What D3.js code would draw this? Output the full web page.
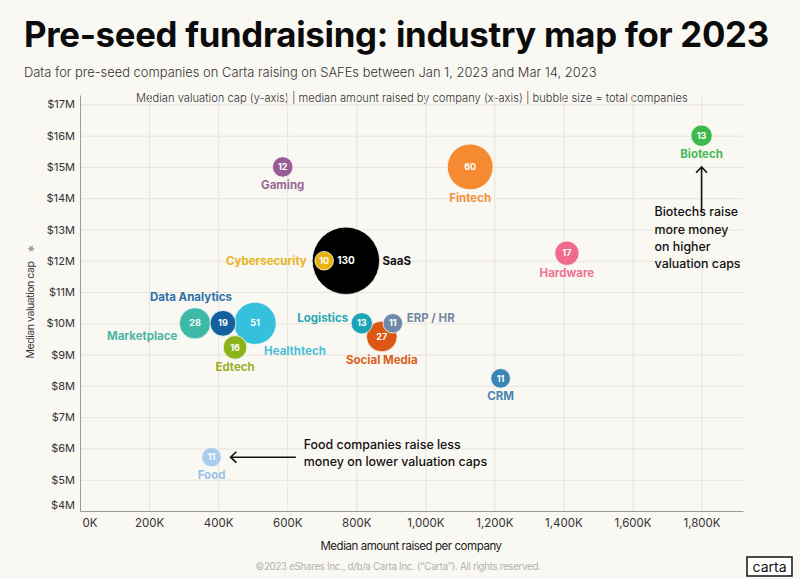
<!DOCTYPE html>
<html>
<head>
<meta charset="utf-8">
<script src="https://cdn.jsdelivr.net/npm/d3@7"></script>
<style>
  body { margin: 0; background: #faf8f3; }
  svg { display: block; font-family: Inter, "Noto Sans", sans-serif; }
</style>
</head>
<body>
<svg id="chart" width="800" height="579"></svg>
<script>
// industries
var industries = ['SaaS', 'Fintech', 'Healthtech', 'Marketplace', 'Social Media', 'Data Analytics',
    'Hardware', 'Edtech', 'Biotech', 'Logistics', 'Gaming', 'ERP / HR', 'CRM', 'Food', 'Cybersecurity'];
// median amount raised per company, in K
var amounts = [770, 1130, 507, 333, 874, 414, 1410, 449, 1800, 816, 587, 906, 1218, 381, 707];
// median valuation cap, in $M
var caps = [12, 15, 10, 10, 9.58, 10, 12.24, 9.23, 16, 10, 15, 10, 8.24, 5.72, 12];
// total companies
var counts = [130, 60, 51, 28, 27, 19, 17, 16, 13, 13, 12, 11, 11, 11, 10];

var bubbleColors = ['#000000', '#f58a32', '#35c1dd', '#3db9a8', '#dc5713', '#13609e', '#ef6a8c',
    '#8db31a', '#3dba4b', '#1aa6b6', '#9a5c96', '#6f8aa8', '#3a84b6', '#a8cdee', '#e9b30e'];
var labelColors = ['#111111', '#f3913e', '#4cbfd9', '#4bb6a5', '#d9621c', '#2d6fa6', '#ef7391',
    '#98b02b', '#48b955', '#24a8b6', '#9a6796', '#7189a4', '#4a86b4', '#98c1e6', '#e8b520'];

var xTicks = [0, 200, 400, 600, 800, 1000, 1200, 1400, 1600, 1800];
var yTicks = [4, 5, 6, 7, 8, 9, 10, 11, 12, 13, 14, 15, 16, 17];

// where each label sits relative to its bubble
var labelPlace = {
    'SaaS': { side: 'right', gap: 3, dy: 0 },
    'Cybersecurity': { side: 'left', gap: 8, dy: 0 },
    'Marketplace': { side: 'left', gap: 2, dy: 13 },
    'Data Analytics': { side: 'above', dx: -32 },
    'Healthtech': { side: 'belowright', dx: 9 },
    'Logistics': { side: 'left', gap: 3, dy: -5 },
    'ERP / HR': { side: 'right', gap: 4, dy: -5 }
};

var width = 800, height = 579;
var margin = { top: 95, right: 57, bottom: 68, left: 80 };
var w = width - margin.left - margin.right;
var h = height - margin.top - margin.bottom;

var svg = d3.select('#chart');
svg.append('rect').attr('width', width).attr('height', height).attr('fill', '#faf8f3');

function fitText(sel, target) {
    var len = sel.node().getComputedTextLength();
    var size = parseFloat(sel.style('font-size'));
    sel.style('font-size', (size * target / len) + 'px');
}

// headings
var title = svg.append('text')
    .attr('x', 24).attr('y', 47)
    .style('font-size', '34px').style('font-weight', 700)
    .style('fill', '#0b0b0b').style('letter-spacing', '-0.3px')
    .text('Pre-seed fundraising: industry map for 2023');
fitText(title, 745);

var subtitle = svg.append('text')
    .attr('x', 24).attr('y', 77)
    .style('font-size', '14px').style('font-weight', 300)
    .style('fill', '#333')
    .text('Data for pre-seed companies on Carta raising on SAFEs between Jan 1, 2023 and Mar 14, 2023');
fitText(subtitle, 573);

var note = svg.append('text')
    .attr('x', 136).attr('y', 102)
    .style('font-size', '12px').style('font-weight', 300)
    .style('fill', '#333')
    .text('Median valuation cap (y-axis) | median amount raised by company (x-axis) | bubble size = total companies');
fitText(note, 552);

var g = svg.append('g').attr('transform', 'translate(' + margin.left + ',' + margin.top + ')');

var x = d3.scaleLinear().domain([0, 1920]).range([0, w]);
var y = d3.scaleLinear().domain([4, 17.3]).range([h, 0]);
var r = d3.scaleSqrt().domain([0, 130]).range([0, 33.7]);

// grid
g.append('g')
    .attr('class', 'grid')
    .call(d3.axisLeft(y).tickValues(yTicks.slice(1)).tickSize(-w).tickFormat(''))
    .call(function(s) { s.select('.domain').remove(); })
    .selectAll('line').attr('stroke', '#e7e4dc');

g.append('g')
    .attr('class', 'grid')
    .attr('transform', 'translate(0,' + h + ')')
    .call(d3.axisBottom(x).tickValues(xTicks.slice(1)).tickSize(-h).tickFormat(''))
    .call(function(s) { s.select('.domain').remove(); })
    .selectAll('line').attr('stroke', '#e7e4dc');

// axes
var yAxis = g.append('g')
    .call(d3.axisLeft(y).tickValues(yTicks).tickSize(0).tickPadding(5)
        .tickFormat(function(d) { return '$' + d + 'M'; }));
yAxis.select('.domain').attr('stroke', '#9a9a9a');
yAxis.selectAll('text')
    .style('font-size', '11px').style('fill', '#333').style('font-family', 'Inter, sans-serif')
    .attr('dy', function(d) { return d === 4 ? '-0.25em' : '0.32em'; });

var xAxis = g.append('g')
    .attr('transform', 'translate(0,' + h + ')')
    .call(d3.axisBottom(x).tickValues(xTicks).tickSize(0).tickPadding(8)
        .tickFormat(function(d) { return d3.format(',')(d) + 'K'; }));
xAxis.select('.domain').attr('stroke', '#9a9a9a').attr('stroke-width', 1.2);
xAxis.selectAll('text')
    .style('font-size', '11.5px').style('fill', '#333').style('font-family', 'Inter, sans-serif')
    .attr('text-anchor', function(d) { return d === 0 ? 'start' : 'middle'; })
    .attr('dx', function(d) { return d === 0 ? 2 : 0; });

// axis titles
svg.append('text')
    .attr('transform', 'translate(34,' + 310 + ') rotate(-90)')
    .attr('text-anchor', 'middle')
    .style('font-size', '10.5px').style('fill', '#333').style('letter-spacing', '-0.45px')
    .text('Median valuation cap');
svg.append('text')
    .attr('transform', 'translate(34,' + 248 + ') rotate(-90)')
    .attr('text-anchor', 'middle')
    .style('fill', '#999').style('font-size', '8px').text('\u2731');

svg.append('text')
    .attr('x', 411).attr('y', 550)
    .attr('text-anchor', 'middle')
    .style('font-size', '11.5px').style('fill', '#222').style('letter-spacing', '-0.45px')
    .text('Median amount raised per company');

// bubbles
var data = industries.map(function(name, i) {
    return { name: name, amount: amounts[i], cap: caps[i], count: counts[i],
        color: bubbleColors[i], labelColor: labelColors[i] };
});
data.sort(function(a, b) { return b.count - a.count; });

var nodes = g.selectAll('.bubble')
    .data(data).enter()
    .append('g')
    .attr('class', 'bubble')
    .attr('transform', function(d) { return 'translate(' + x(d.amount) + ',' + y(d.cap) + ')'; });

nodes.append('circle')
    .attr('r', function(d) { return r(d.count); })
    .attr('fill', function(d) { return d.color; })
    .attr('stroke', '#faf8f3')
    .attr('stroke-width', 0.8);

nodes.append('text')
    .attr('text-anchor', 'middle')
    .attr('dy', '0.35em')
    .style('font-size', function(d) { return d.count > 100 ? '10px' : '9px'; })
    .style('font-weight', 700)
    .style('fill', '#fff')
    .text(function(d) { return d.count; });

// industry labels
nodes.append('text')
    .each(function(d) {
        var p = labelPlace[d.name] || { side: 'below' };
        var rad = r(d.count), t = d3.select(this);
        if (p.side === 'below') {
            t.attr('x', p.dx || 0).attr('y', rad + 12).attr('text-anchor', 'middle');
        } else if (p.side === 'above') {
            t.attr('x', p.dx || 0).attr('y', -rad - 9).attr('text-anchor', 'middle');
        } else if (p.side === 'left') {
            t.attr('x', -rad - p.gap).attr('y', 4 + p.dy).attr('text-anchor', 'end');
        } else if (p.side === 'right') {
            t.attr('x', rad + p.gap).attr('y', 4 + p.dy).attr('text-anchor', 'start');
        } else {
            t.attr('x', p.dx).attr('y', rad + 11).attr('text-anchor', 'start');
        }
    })
    .style('font-size', '11.5px')
    .style('font-weight', 700)
    .style('fill', function(d) { return d.labelColor; })
    .text(function(d) { return d.name; });

// annotations
var notes = [
    { from: [1800, 13.55], to: [1800, 15.0], tx: 1664, ty: 13.42,
      lines: ['Biotechs raise', 'more money', 'on higher', 'valuation caps'] },
    { from: [625, 5.72], to: [436, 5.72], tx: 648, ty: 5.98,
      lines: ['Food companies raise less', 'money on lower valuation caps'] }
];

notes.forEach(function(n) {
    var x1 = x(n.from[0]), y1 = y(n.from[1]), x2 = x(n.to[0]), y2 = y(n.to[1]);
    var ang = Math.atan2(y2 - y1, x2 - x1), hl = 8, spread = 0.75;
    g.append('path')
        .attr('d', 'M' + x1 + ',' + y1 + 'L' + x2 + ',' + y2 +
            'M' + (x2 - hl * Math.cos(ang - spread)) + ',' + (y2 - hl * Math.sin(ang - spread)) +
            'L' + x2 + ',' + y2 +
            'L' + (x2 - hl * Math.cos(ang + spread)) + ',' + (y2 - hl * Math.sin(ang + spread)))
        .attr('fill', 'none')
        .attr('stroke', '#111')
        .attr('stroke-width', 1.6);

    var t = g.append('text')
        .attr('x', x(n.tx)).attr('y', y(n.ty))
        .style('font-size', '12.4px').style('font-weight', 500).style('fill', '#111');
    n.lines.forEach(function(line, i) {
        t.append('tspan').attr('x', x(n.tx)).attr('dy', i === 0 ? 0 : 17.3).text(line);
    });
});

// footer
var footer = svg.append('text')
    .attr('x', 398).attr('y', 570)
    .attr('text-anchor', 'middle')
    .style('font-size', '10px').style('fill', '#b0b0b0').style('letter-spacing', '-0.3px')
    .text('\u00a92023 eShares Inc., d/b/a Carta Inc. (\u201cCarta\u201d). All rights reserved.');
fitText(footer, 286);

svg.append('rect')
    .attr('x', 747).attr('y', 557).attr('width', 45).attr('height', 19)
    .attr('fill', '#fff').attr('stroke', '#111').attr('stroke-width', 1.5);
svg.append('text')
    .attr('x', 769.5).attr('y', 571.5)
    .attr('text-anchor', 'middle')
    .style('font-size', '14px').style('fill', '#111')
    .text('carta');
</script>
</body>
</html>
